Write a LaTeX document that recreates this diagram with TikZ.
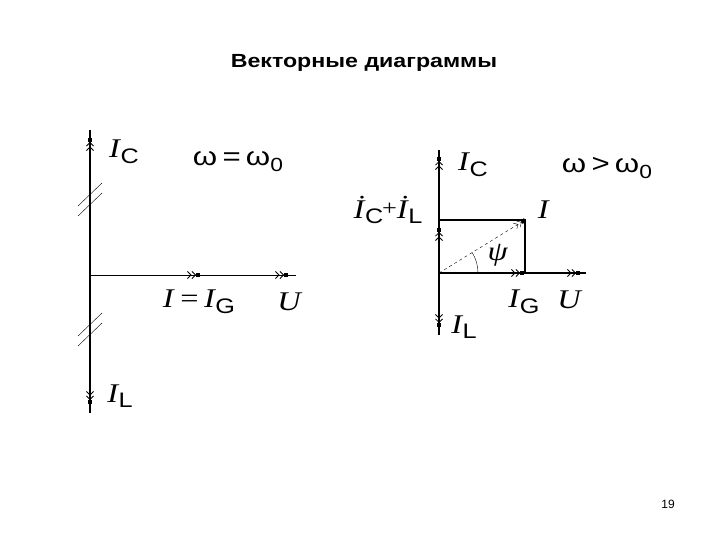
\documentclass[tikz,border=0pt]{standalone}
\usepackage{fontspec}
\setmainfont{Liberation Serif}
\setsansfont{Liberation Sans}
\usetikzlibrary{arrows.meta}

% current label: italic I with an upright sans index
\newcommand{\cur}[1]{\textit{I}\kern-0.5pt\raisebox{-0.45ex}{\sffamily\fontsize{21}{21}\selectfont #1}}
\newcommand{\dcur}[1]{\textit{\.I}\kern-0.5pt\raisebox{-0.45ex}{\sffamily\fontsize{21}{21}\selectfont #1}}

\tikzset{
  vec/.style={thick,-{Straight Barb[length=3.5pt,width=7pt]Straight Barb[length=3.5pt,width=7pt]Square[length=4pt,width=4pt]}},
  lab/.style={font=\fontsize{27}{27}\selectfont, inner sep=0pt, xscale=1.2},
  omg/.style={font=\sffamily\fontsize{26}{26}\selectfont, inner sep=0pt, xscale=1.2}
}

\begin{document}
\begin{tikzpicture}[x=1pt,y=-1pt]
	\useasboundingbox (0,0) rectangle (720,540);
	\node[font=\sffamily\bfseries\fontsize{19}{19}\selectfont, xscale=1.22] (title) at (364,63) {Векторные диаграммы};
	\node[font=\sffamily\fontsize{12}{12}\selectfont] (page) at (668,504) {19};

	% omega = omega_0
	\coordinate (o1) at (90,275);
	\coordinate (ic1) at (90,138);
	\coordinate (il1) at (90,404);
	\coordinate (i1) at (200,275);
	\coordinate (u1) at (288,275);
	\draw[line width=1.6pt] (90,130) -- (90,413);
	\draw[semithick] (o1) -- (296,275);
	\draw[vec] (o1) -- (ic1);
	\draw[vec] (o1) -- (il1);
	\draw[vec] (o1) -- (i1);
	\draw[vec] (o1) -- (u1);
	\draw (78,206) -- (102,183);
	\draw (78,216) -- (102,193);
	\draw (78,336) -- (102,313);
	\draw (78,346) -- (102,323);
	\node[lab] (lic1) at (124,152) {\cur{C}};
	\node[omg] (w1) at (238,162) {ω\,=\,ω\raisebox{-0.45ex}{\fontsize{19}{19}\selectfont 0}};
	\node[lab] (li1) at (199,302) {\textit{I}\,=\,\cur{G}};
	\node[lab] (lu1) at (290,302) {\textit{U}};
	\node[lab] (lil1) at (120,396) {\cur{L}};

	% omega > omega_0
	\coordinate (o2) at (439,273);
	\coordinate (ic2) at (439,157);
	\coordinate (il2) at (439,327);
	\coordinate (icl2) at (439,228);
	\coordinate (ig2) at (524,273);
	\coordinate (u2) at (580,273);
	\coordinate (i2) at (525,220);
	\draw[line width=1.6pt] (439,150) -- (439,335);
	\draw[line width=1.2pt] (o2) -- (586,273);
	\draw[line width=1.4pt] (o2 |- i2) -- (i2) -- (i2 |- o2);
	\draw[vec] (o2) -- (ic2);
	\draw[vec] (o2) -- (il2);
	\draw[vec] (o2) -- (icl2);
	\draw[vec] (o2) -- (ig2);
	\draw[vec] (o2) -- (u2);
	\draw[vec, thin, dashed] (o2) -- (i2);
	\draw (478,273) arc[start angle=0, end angle=-31.6, radius=39];
	\node[lab] (lic2) at (473,165) {\cur{C}};
	\node[omg] (w2) at (607,168) {ω\,>\,ω\raisebox{-0.45ex}{\fontsize{19}{19}\selectfont 0}};
	\node[lab] (licl2) at (388,210) {\dcur{C}\kern-1pt\raisebox{0.2ex}{\fontsize{22}{22}\selectfont +}\dcur{L}};
	\node[lab] (li2) at (544,210) {\textit{I}};
	\node[lab] (lpsi) at (498,255) {\textit{ψ}};
	\node[lab] (lig2) at (524,302) {\cur{G}};
	\node[lab] (lu2) at (570,300) {\textit{U}};
	\node[lab] (lil2) at (464,327) {\cur{L}};
\end{tikzpicture}
\end{document}
